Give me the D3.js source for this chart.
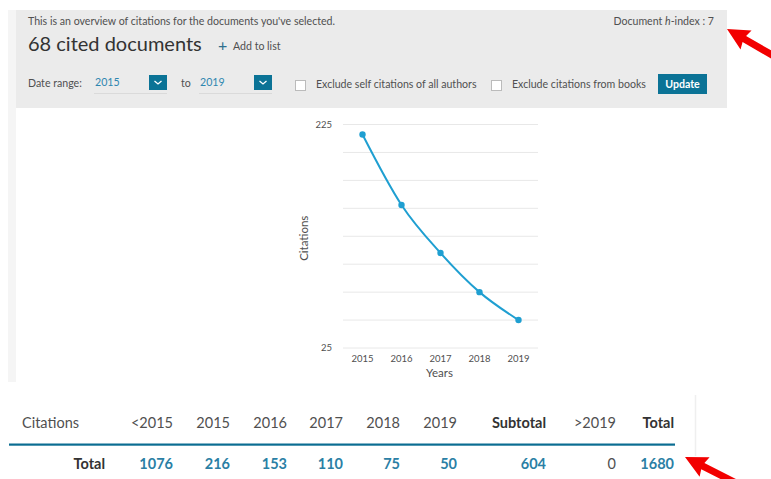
<!DOCTYPE html>
<html>
<head>
<meta charset="utf-8">
<script src="https://cdn.jsdelivr.net/npm/d3@7"></script>
<style>
  body { margin: 0; background: #fff; }
  svg { display: block; font-family: Lato, "Open Sans", sans-serif; }
</style>
</head>
<body>
<svg id="Page" width="771" height="479"></svg>
<script>
// chart data
var years = ["2015", "2016", "2017", "2018", "2019"];
var citations = [216, 153, 110, 75, 50];
var yTicks = [25, 225];

// table data
var tableHeaders = ["<2015", "2015", "2016", "2017", "2018", "2019", "Subtotal", ">2019", "Total"];
var tableTotals = [1076, 216, 153, 110, 75, 50, 604, 0, 1680];
var boldHeaders = ["Subtotal", "Total"];

var svg = d3.select("#Page");
var grey = "#505050", teal = "#0b7396", small = 10.6;

// header panel
svg.append("rect").attr("x", 8).attr("y", 10).attr("width", 8).attr("height", 372).attr("fill", "#f5f5f5");
svg.append("rect").attr("x", 16).attr("y", 10).attr("width", 711).attr("height", 98).attr("fill", "#ebebeb");

svg.append("text").attr("x", 28).attr("y", 25).attr("font-size", small).attr("fill", grey)
    .text("This is an overview of citations for the documents you've selected.");
svg.append("text").attr("x", 28).attr("y", 51).attr("font-size", 20).attr("fill", "#333")
    .text("68 cited documents");
svg.append("text").attr("x", 218).attr("y", 51).attr("font-size", 16).attr("fill", "#2e6f8e").text("+");
svg.append("text").attr("x", 233).attr("y", 50).attr("font-size", small).attr("fill", grey).text("Add to list");

var hidx = svg.append("text").attr("x", 714).attr("y", 25).attr("font-size", small)
    .attr("fill", grey).attr("text-anchor", "end");
hidx.append("tspan").text("Document ");
hidx.append("tspan").attr("font-style", "italic").text("h");
hidx.append("tspan").text("-index : 7");

svg.append("text").attr("x", 28).attr("y", 87).attr("font-size", small).attr("fill", grey).text("Date range:");
svg.append("text").attr("x", 181).attr("y", 87).attr("font-size", small).attr("fill", grey).text("to");

[{ x: 94, label: years[0] }, { x: 199, label: years[years.length - 1] }].forEach(function (d) {
    svg.append("text").attr("x", d.x + 1).attr("y", 86).attr("font-size", small).attr("fill", "#2e86b0").text(d.label);
    svg.append("line").attr("x1", d.x).attr("x2", d.x + 73).attr("y1", 93.5).attr("y2", 93.5)
        .attr("stroke", "#dadada");
    svg.append("rect").attr("x", d.x + 55).attr("y", 75).attr("width", 18).attr("height", 15).attr("fill", teal);
    svg.append("path").attr("d", "M" + (d.x + 60.5) + ",81 l3.5,3 l3.5,-3")
        .attr("fill", "none").attr("stroke", "#fff").attr("stroke-width", 1.3);
});

[{ x: 295, label: "Exclude self citations of all authors" }, { x: 491, label: "Exclude citations from books" }]
    .forEach(function (d) {
        svg.append("rect").attr("x", d.x + 0.5).attr("y", 80.5).attr("width", 10).attr("height", 10)
            .attr("fill", "#fff").attr("stroke", "#bbb");
        svg.append("text").attr("x", d.x + 21).attr("y", 88).attr("font-size", small).attr("fill", grey).text(d.label);
    });

svg.append("rect").attr("x", 658).attr("y", 74).attr("width", 49).attr("height", 20).attr("fill", teal);
svg.append("text").attr("x", 682.5).attr("y", 87.5).attr("font-size", small).attr("font-weight", "bold")
    .attr("fill", "#fff").attr("text-anchor", "middle").text("Update");

// line chart
var margin = { top: 124.5, left: 343 },
    width = 195,
    height = 223.5,
    g = svg.append("g").attr("transform", "translate(" + margin.left + "," + margin.top + ")");

var x = d3.scalePoint().domain(years).range([0, width]).padding(0.5),
    y = d3.scaleLinear().domain([25, 225]).range([height, 0]);

g.append("g").selectAll("line")
    .data(d3.range(25, 226, 25))
    .enter().append("line")
    .attr("x1", 0).attr("x2", width)
    .attr("y1", function (d) { return y(d); }).attr("y2", function (d) { return y(d); })
    .attr("stroke", "#e8e8e8");

g.append("g").selectAll("text")
    .data(yTicks)
    .enter().append("text")
    .attr("x", -11).attr("y", function (d) { return y(d); }).attr("dy", "0.35em")
    .attr("text-anchor", "end").attr("font-size", 9.5).attr("fill", grey)
    .text(function (d) { return d; });

g.append("g").selectAll("text")
    .data(years)
    .enter().append("text")
    .attr("x", function (d) { return x(d); }).attr("y", height + 14)
    .attr("text-anchor", "middle").attr("font-size", 9.5).attr("fill", grey)
    .text(function (d) { return d; });

g.append("text").attr("x", width / 2 - 1).attr("y", height + 29).attr("text-anchor", "middle")
    .attr("font-size", 11.5).attr("fill", grey).text("Years");
g.append("text").attr("transform", "translate(-35," + (height / 2 + 2) + ") rotate(-90)")
    .attr("text-anchor", "middle").attr("font-size", 11.5).attr("fill", grey).text("Citations");

var line = d3.line()
    .curve(d3.curveMonotoneX)
    .x(function (d, i) { return x(years[i]); })
    .y(function (d) { return y(d); });

g.append("path").datum(citations).attr("d", line)
    .attr("fill", "none").attr("stroke", "#1f9fd1").attr("stroke-width", 2);
g.selectAll(".dot").data(citations).enter().append("circle").attr("class", "dot")
    .attr("cx", function (d, i) { return x(years[i]); }).attr("cy", function (d) { return y(d); })
    .attr("r", 3.2).attr("fill", "#1f9fd1");

// citation table
var colWidths = [0, 57, 57, 56, 57, 57, 89, 70, 58],
    firstRight = 173,
    colRight = colWidths.map(function (w, i) { return firstRight + d3.sum(colWidths.slice(0, i + 1)); });

svg.append("text").attr("x", 22).attr("y", 428).attr("font-size", 14.5).attr("fill", grey).text("Citations");
svg.selectAll(".th").data(tableHeaders).enter().append("text").attr("class", "th")
    .attr("x", function (d, i) { return colRight[i]; }).attr("y", 428)
    .attr("text-anchor", "end").attr("font-size", 14.5)
    .attr("font-weight", function (d) { return boldHeaders.indexOf(d) >= 0 ? "bold" : "normal"; })
    .attr("fill", function (d) { return boldHeaders.indexOf(d) >= 0 ? "#333" : grey; })
    .text(function (d) { return d; });

svg.append("rect").attr("x", 9).attr("y", 443.5).attr("width", 666).attr("height", 2.2).attr("fill", "#0a6d92");
svg.append("line").attr("x1", 695.5).attr("x2", 695.5).attr("y1", 395).attr("y2", 456)
    .attr("stroke", "#efefef").attr("stroke-width", 1.5);

svg.append("text").attr("x", 105).attr("y", 469).attr("font-size", 14.5).attr("font-weight", "bold")
    .attr("text-anchor", "end").attr("fill", "#333").text("Total");
svg.selectAll(".td").data(tableTotals).enter().append("text").attr("class", "td")
    .attr("x", function (d, i) { return colRight[i]; }).attr("y", 469)
    .attr("text-anchor", "end").attr("font-size", 14.5)
    .attr("font-weight", function (d) { return d === 0 ? "normal" : "bold"; })
    .attr("fill", function (d) { return d === 0 ? grey : "#2b7fa5"; })
    .text(function (d) { return d; });

// red pointer arrows
function arrow(tipX, tipY, angle, len) {
    var pts = [[0, 0], [22, -11], [20, -3.5], [len, -3.5], [len, 3.5], [20, 3.5], [22, 11]];
    svg.append("polygon")
        .attr("points", pts.map(function (p) { return p.join(","); }).join(" "))
        .attr("transform", "translate(" + tipX + "," + tipY + ") rotate(" + angle + ")")
        .attr("fill", "#f20000");
}
arrow(727, 29, 30, 60);
arrow(685, 457, 27, 70);
</script>
</body>
</html>
